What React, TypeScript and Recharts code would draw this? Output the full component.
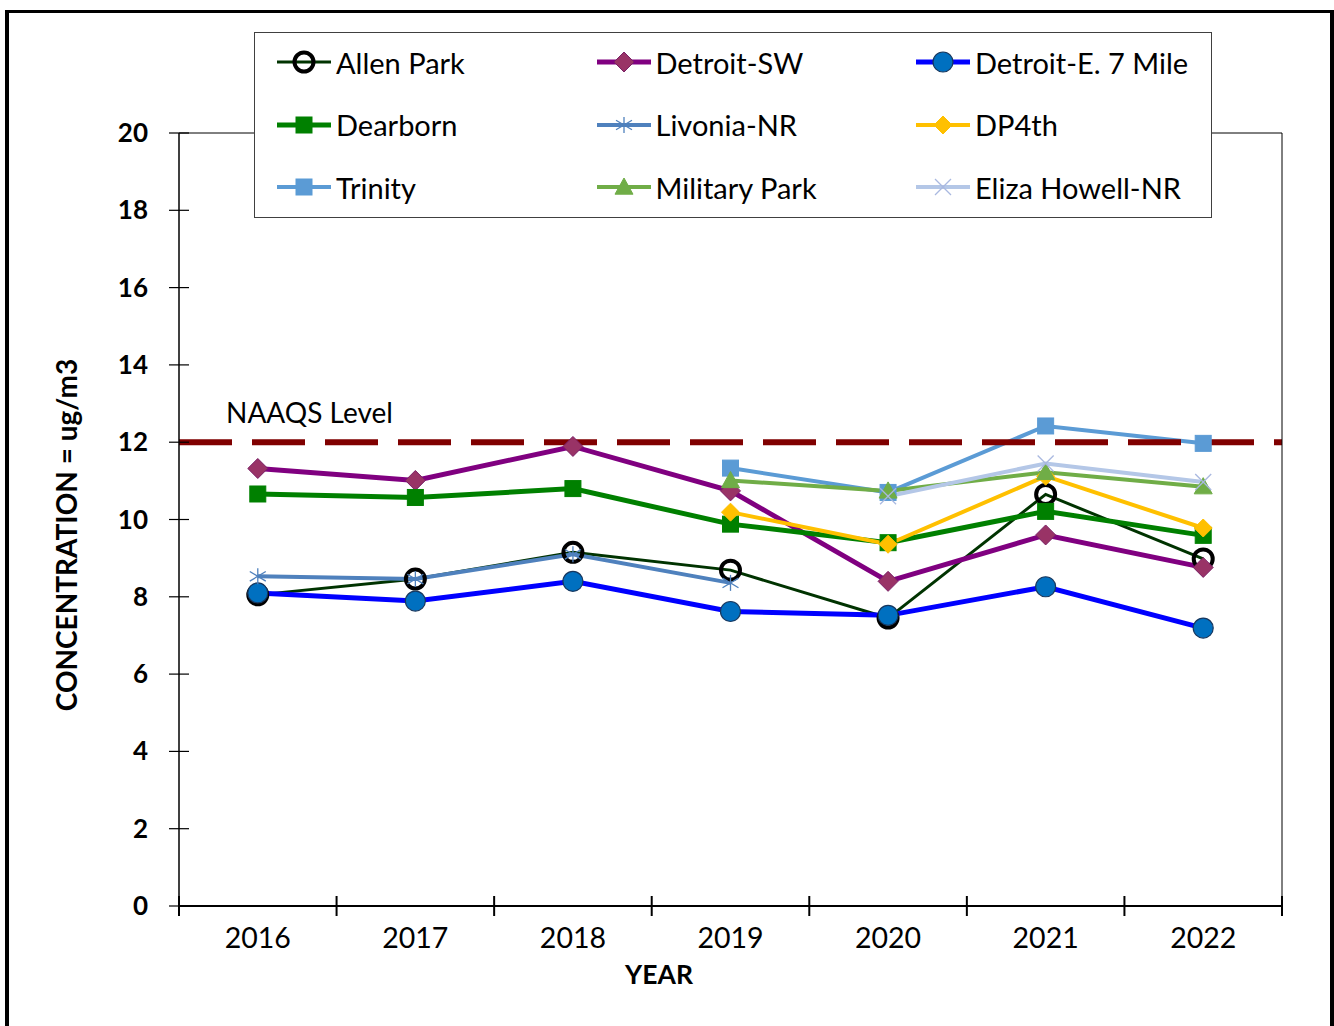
import React from "react";
import { LineChart, Line, XAxis, YAxis, ReferenceLine, Legend } from "recharts";

const YEARS = ["2016", "2017", "2018", "2019", "2020", "2021", "2022"];

const ALLEN_PARK = [8.05, 8.46, 9.15, 8.69, 7.45, 10.65, 8.98];
const DETROIT_SW = [11.32, 11.01, 11.89, 10.74, 8.4, 9.6, 8.76];
const DETROIT_E7 = [8.1, 7.89, 8.4, 7.62, 7.52, 8.26, 7.19];
const DEARBORN = [10.66, 10.57, 10.8, 9.88, 9.4, 10.21, 9.59];
const LIVONIA_NR = [8.53, 8.46, 9.1, 8.36, null, null, null];
const DP4TH = [null, null, null, 10.19, 9.36, 11.12, 9.78];
const TRINITY = [null, null, null, 11.33, 10.7, 12.42, 11.97];
const MILITARY_PARK = [null, null, null, 11.01, 10.74, 11.22, 10.85];
const ELIZA_HOWELL = [null, null, null, null, 10.6, 11.45, 10.97];

const NAAQS_LEVEL = 12;
const Y_TICKS = [0, 2, 4, 6, 8, 10, 12, 14, 16, 18, 20];

const W = 1334;
const H = 1026;
const PLOT = { left: 179, top: 133, right: 1282, bottom: 906 };
const PLOT_W = PLOT.right - PLOT.left;
const HALF_BAND = PLOT_W / YEARS.length / 2;
const FONT = "Lato, 'Noto Sans', sans-serif";

type Shape = "ring" | "diamond" | "circle" | "square" | "star" | "triangle" | "cross";

type Series = {
  key: string;
  name: string;
  values: (number | null)[];
  line: string;
  width: number;
  shape: Shape;
  fill: string;
  edge: string;
  size: number;
};

const SERIES: Series[] = [
  { key: "allen", name: "Allen Park", values: ALLEN_PARK, line: "#003300", width: 3, shape: "ring", fill: "none", edge: "#000000", size: 9.5 },
  { key: "dsw", name: "Detroit-SW", values: DETROIT_SW, line: "#800080", width: 5, shape: "diamond", fill: "#993366", edge: "#7a1f66", size: 10 },
  { key: "de7", name: "Detroit-E. 7 Mile", values: DETROIT_E7, line: "#0000ff", width: 5, shape: "circle", fill: "#0070c0", edge: "#17375e", size: 10 },
  { key: "dearborn", name: "Dearborn", values: DEARBORN, line: "#008000", width: 5, shape: "square", fill: "#008000", edge: "#008000", size: 8 },
  { key: "livonia", name: "Livonia-NR", values: LIVONIA_NR, line: "#4f81bd", width: 4, shape: "star", fill: "none", edge: "#4f81bd", size: 8 },
  { key: "dp4th", name: "DP4th", values: DP4TH, line: "#ffc000", width: 4, shape: "diamond", fill: "#ffc000", edge: "#ffc000", size: 9 },
  { key: "trinity", name: "Trinity", values: TRINITY, line: "#5b9bd5", width: 4, shape: "square", fill: "#5b9bd5", edge: "#5b9bd5", size: 8 },
  { key: "military", name: "Military Park", values: MILITARY_PARK, line: "#70ad47", width: 4, shape: "triangle", fill: "#70ad47", edge: "#70ad47", size: 9 },
  { key: "eliza", name: "Eliza Howell-NR", values: ELIZA_HOWELL, line: "#b4c7e7", width: 4, shape: "cross", fill: "none", edge: "#a9b8e0", size: 8 },
];

const data = YEARS.map((year, i) => {
  const row: Record<string, string | number | null> = { year };
  SERIES.forEach((s) => {
    row[s.key] = s.values[i];
  });
  return row;
});

function Marker({ s, cx, cy }: { s: Series; cx: number; cy: number }) {
  const r = s.size;
  switch (s.shape) {
    case "ring":
      return <circle cx={cx} cy={cy} r={r} fill="none" stroke={s.edge} strokeWidth={4} />;
    case "circle":
      return <circle cx={cx} cy={cy} r={r} fill={s.fill} stroke={s.edge} strokeWidth={1.2} />;
    case "diamond":
      return (
        <polygon
          points={`${cx},${cy - r} ${cx + r},${cy} ${cx},${cy + r} ${cx - r},${cy}`}
          fill={s.fill}
          stroke={s.edge}
          strokeWidth={1}
        />
      );
    case "square":
      return <rect x={cx - r} y={cy - r} width={r * 2} height={r * 2} fill={s.fill} stroke={s.edge} />;
    case "triangle":
      return (
        <polygon
          points={`${cx},${cy - r} ${cx + r},${cy + r * 0.8} ${cx - r},${cy + r * 0.8}`}
          fill={s.fill}
          stroke={s.edge}
        />
      );
    case "star":
      return (
        <g stroke={s.edge} strokeWidth={1.3}>
          <line x1={cx} y1={cy - r} x2={cx} y2={cy + r} />
          <line x1={cx - r} y1={cy - r * 0.6} x2={cx + r} y2={cy + r * 0.6} />
          <line x1={cx - r} y1={cy + r * 0.6} x2={cx + r} y2={cy - r * 0.6} />
        </g>
      );
    case "cross":
      return (
        <g stroke={s.edge} strokeWidth={1.3}>
          <line x1={cx - r} y1={cy - r} x2={cx + r} y2={cy + r} />
          <line x1={cx - r} y1={cy + r} x2={cx + r} y2={cy - r} />
        </g>
      );
  }
  return null;
}

function XTick(props: any) {
  const { x, y, payload, index } = props;
  return (
    <g>
      <line x1={x - HALF_BAND} x2={x - HALF_BAND} y1={y - 10} y2={y + 10} stroke="#000" strokeWidth={2} />
      {index === YEARS.length - 1 && (
        <line x1={x + HALF_BAND} x2={x + HALF_BAND} y1={y - 10} y2={y + 10} stroke="#000" strokeWidth={2} />
      )}
      <text x={x} y={y + 42} textAnchor="middle" fontSize={28.5} fill="#000">
        {payload.value}
      </text>
    </g>
  );
}

function YTick(props: any) {
  const { x, y, payload } = props;
  return (
    <g>
      <line x1={x - 10} x2={x + 10} y1={y} y2={y} stroke="#000" strokeWidth={1.2} />
      <text x={x - 31} y={y + 9} textAnchor="end" fontSize={26} fontWeight="bold" fill="#000">
        {payload.value}
      </text>
    </g>
  );
}

function LegendBox() {
  return (
    <div
      style={{
        width: 958,
        height: 186,
        boxSizing: "border-box",
        border: "1px solid #404040",
        background: "#fff",
        position: "relative",
        fontFamily: FONT,
      }}
    >
      {SERIES.map((s, i) => {
        const col = i % 3;
        const row = Math.floor(i / 3);
        return (
          <div
            key={s.key}
            style={{
              position: "absolute",
              left: 22 + col * 319.5,
              top: 14 + row * 62.5,
              height: 30,
              display: "flex",
              alignItems: "center",
              whiteSpace: "nowrap",
            }}
          >
            <svg width={54} height={30} style={{ overflow: "visible" }}>
              <line x1={0} x2={54} y1={15} y2={15} stroke={s.line} strokeWidth={s.width} />
              <Marker s={s} cx={27} cy={15} />
            </svg>
            <span style={{ marginLeft: 5, fontSize: 29, color: "#000" }}>{s.name}</span>
          </div>
        );
      })}
    </div>
  );
}

export default function App() {
  return (
    <div
      style={{
        position: "fixed",
        left: 0,
        top: 0,
        width: W,
        height: H,
        overflow: "hidden",
        background: "#fff",
        fontFamily: FONT,
      }}
    >
      <div
        style={{
          position: "absolute",
          left: 5,
          top: 10,
          width: W - 5,
          height: H + 40,
          boxSizing: "border-box",
          borderLeft: "4px solid #000",
          borderTop: "3px solid #000",
          borderRight: "4px solid #000",
        }}
      />
      <div style={{ position: "absolute", left: 0, top: 0 }}>
        <LineChart
          width={W}
          height={H}
          data={data}
          margin={{ top: PLOT.top - 1, right: W - PLOT.right - 1, left: PLOT.left - 100, bottom: H - PLOT.bottom - 80 }}
        >
          <XAxis
            xAxisId="frame"
            orientation="top"
            dataKey="year"
            height={1}
            tick={false}
            tickLine={false}
            axisLine={{ stroke: "#000", strokeWidth: 1 }}
          />
          <YAxis
            yAxisId="frame"
            orientation="right"
            width={1}
            domain={[0, 20]}
            tick={false}
            tickLine={false}
            axisLine={{ stroke: "#000", strokeWidth: 1 }}
          />
          <XAxis
            dataKey="year"
            height={80}
            interval={0}
            padding={{ left: HALF_BAND, right: HALF_BAND }}
            tickSize={0}
            tickMargin={0}
            tickLine={false}
            tick={<XTick />}
            axisLine={{ stroke: "#000", strokeWidth: 2 }}
            label={{
              content: () => (
                <text x={659} y={984} textAnchor="middle" fontSize={26.5} fontWeight="bold" fill="#000">
                  YEAR
                </text>
              ),
            }}
          />
          <YAxis
            width={100}
            domain={[0, 20]}
            ticks={Y_TICKS}
            interval={0}
            tickSize={0}
            tickMargin={0}
            tickLine={false}
            tick={<YTick />}
            axisLine={{ stroke: "#000", strokeWidth: 1.5 }}
            label={{
              content: () => (
                <text
                  x={77}
                  y={535}
                  transform="rotate(-90 77 535)"
                  textAnchor="middle"
                  fontSize={28}
                  fontWeight="bold"
                  fill="#000"
                >
                  CONCENTRATION = ug/m3
                </text>
              ),
            }}
          />
          {SERIES.map((s) => (
            <Line
              key={s.key}
              dataKey={s.key}
              name={s.name}
              type="linear"
              stroke={s.line}
              strokeWidth={s.width}
              isAnimationActive={false}
              activeDot={false}
              dot={(p: any) =>
                p.cx == null || p.cy == null || p.value == null ? (
                  <g key={`${s.key}-${p.index}`} />
                ) : (
                  <g key={`${s.key}-${p.index}`}>
                    <Marker s={s} cx={p.cx} cy={p.cy} />
                  </g>
                )
              }
            />
          ))}
          <ReferenceLine
            y={NAAQS_LEVEL}
            stroke="#800000"
            strokeWidth={6}
            strokeDasharray="53 20"
            label={{
              content: (p: any) => (
                <text x={p.viewBox.x + 47} y={p.viewBox.y - 19} fontSize={28} fill="#000">
                  NAAQS Level
                </text>
              ),
            }}
          />
          <Legend
            layout="horizontal"
            verticalAlign="middle"
            align="center"
            wrapperStyle={{ left: 254, top: 32, width: 958, height: 186 }}
            content={() => <LegendBox />}
          />
        </LineChart>
      </div>
    </div>
  );
}
